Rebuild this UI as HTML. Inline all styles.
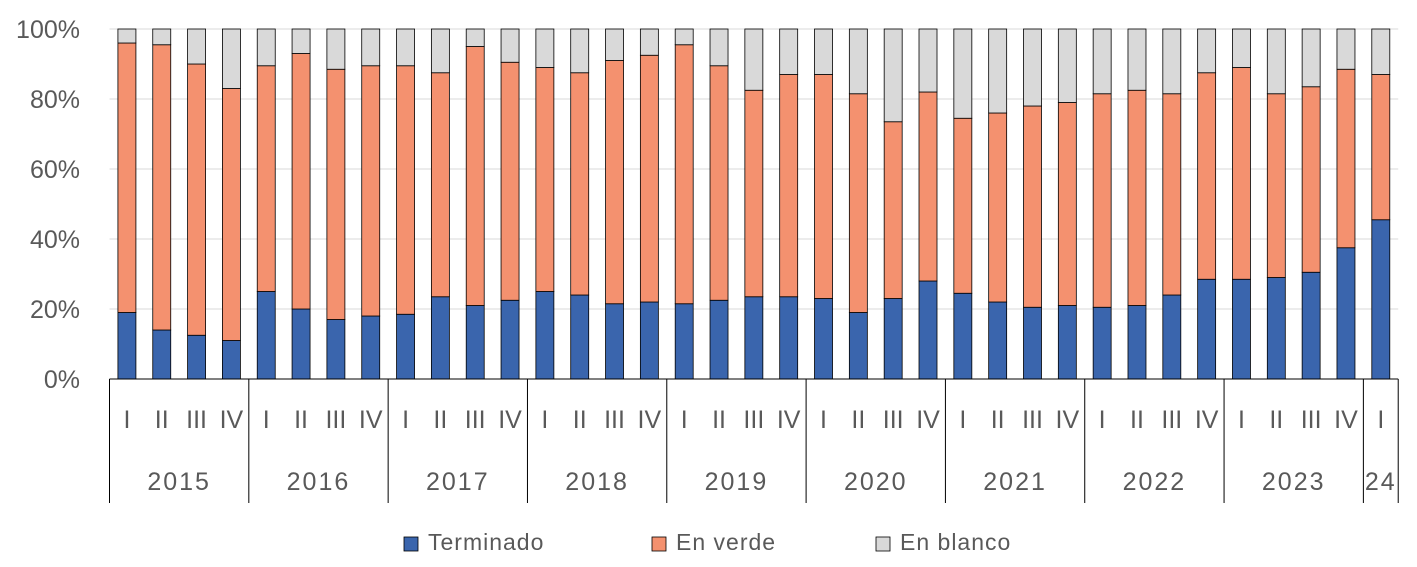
<!DOCTYPE html>
<html><head><meta charset="utf-8"><style>
html,body{margin:0;padding:0;background:#fff;}
svg{display:block;font-family:"Liberation Sans","DejaVu Sans",sans-serif;}
</style></head><body>
<svg id="chart" width="1417" height="567"></svg>
<script>
const years = ["2015","2016","2017","2018","2019","2020","2021","2022","2023","24"];
const quarters = ["I","II","III","IV"];
const terminado = [19,14,12.5,11, 25,20,17,18, 18.5,23.5,21,22.5, 25,24,21.5,22, 21.5,22.5,23.5,23.5, 23,19,23,28, 24.5,22,20.5,21, 20.5,21,24,28.5, 28.5,29,30.5,37.5, 45.5];
const enVerde = [77,81.5,77.5,72, 64.5,73,71.5,71.5, 71,64,74,68, 64,63.5,69.5,70.5, 74,67,59,63.5, 64,62.5,50.5,54, 50,54,57.5,58, 61,61.5,57.5,59, 60.5,52.5,53,51, 41.5];
const enBlanco = terminado.map((t,i)=>100-t-enVerde[i]);
const yTicks = [0,20,40,60,80,100];
const yTickLabels = ["0%","20%","40%","60%","80%","100%"];

const svg = document.getElementById('chart');
const NS = 'http://www.w3.org/2000/svg';
const x0 = 109.5, step = 34.83, barW = 18;
const yBase = 379, yScale = 3.5;
const n = terminado.length;
const xRight = x0 + step*n;
const xC = i => x0 + step*(i+0.5);
const yP = v => yBase - v*yScale;
function mk(tag, attrs, parent){const e=document.createElementNS(NS,tag);for(const k in attrs)e.setAttribute(k,attrs[k]);(parent||svg).appendChild(e);return e;}

yTicks.forEach((t,i)=>{
  if(t>0){const g=mk('line',{x1:x0,x2:xRight,y1:yP(t),y2:yP(t),stroke:'#d9d9d9','stroke-width':1});
  
  }
  const tx=mk('text',{x:80,y:yP(t)+9,'text-anchor':'end','font-size':25,fill:'#595959'});
  tx.textContent=yTickLabels[i];
  
  
});

const series=[{d:terminado,c:'#3a65ad',n:'terminado'},{d:enVerde,c:'#f4916f',n:'en-verde'},{d:enBlanco,c:'#d9d9d9',n:'en-blanco'}];
for(let i=0;i<n;i++){
  let cum=0;
  series.forEach(s=>{
    const v=s.d[i];
    const r=mk('rect',{x:xC(i)-barW/2,y:yP(cum+v),width:barW,height:v*yScale,fill:s.c,stroke:'#000','stroke-width':0.8});
    
    
    cum+=v;
  });
  const q=mk('text',{x:xC(i),y:428,'text-anchor':'middle','font-size':25,fill:'#595959'});
  q.textContent=quarters[i%4];
  
  
}
const ax=mk('line',{x1:x0,x2:xRight,y1:yBase,y2:yBase,stroke:'#000','stroke-width':1});


years.forEach((y,k)=>{
  const s=k*4, e=Math.min(n,k*4+4);
  const l=mk('line',{x1:x0+step*s,x2:x0+step*s,y1:yBase,y2:503,stroke:'#000','stroke-width':1});
  
  
  const t=mk('text',{x:x0+step*(s+e)/2,y:490,'text-anchor':'middle','font-size':25,fill:'#595959','letter-spacing':2});
  t.textContent=y;
  
  
});
const le=mk('line',{x1:xRight,x2:xRight,y1:yBase,y2:503,stroke:'#000','stroke-width':1});



const legend=[['Terminado','#3a65ad',404],['En verde','#f4916f',652],['En blanco','#d9d9d9',876]];
legend.forEach(([t,c,x])=>{
  const r=mk('rect',{x:x,y:537,width:14,height:14,fill:c,stroke:'#000','stroke-width':0.8});
  
  
  const tx=mk('text',{x:x+24,y:550,'font-size':23,fill:'#595959','letter-spacing':1});
  tx.textContent=t;
  
  
});
</script>
</body></html>
